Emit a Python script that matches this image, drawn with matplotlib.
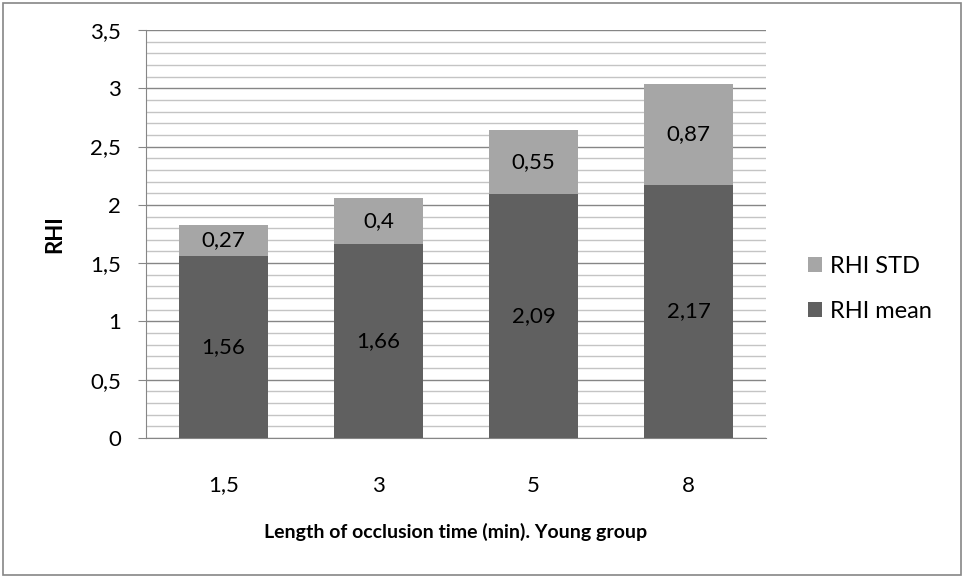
import numpy as np
import matplotlib
matplotlib.use("Agg")
import matplotlib.pyplot as plt
from matplotlib.patches import Rectangle

# data
categories = ["1,5", "3", "5", "8"]
rhi_mean = [1.56, 1.66, 2.09, 2.17]
rhi_std = [0.27, 0.4, 0.55, 0.87]

plt.rcParams['font.family'] = ['Lato', 'DejaVu Sans']

fig = plt.figure(figsize=(9.64, 5.78), dpi=100, facecolor='white')
ax = fig.add_axes([146/964, 1 - 438/578, 620/964, 408/578])

x = np.arange(len(categories))
dark = '#606060'
light = '#a6a6a6'
w = 0.57
fs = 16

b1 = ax.bar(x, rhi_mean, width=w, color=dark, zorder=3, label='RHI mean')
b2 = ax.bar(x, rhi_std, width=w, bottom=rhi_mean, color=light, zorder=3, label='RHI STD')

def fmt(v):
    s = f"{v:.2f}".rstrip('0').rstrip('.')
    return s.replace('.', ',')

for i in range(len(categories)):
    ax.text(x[i], rhi_mean[i] / 2, fmt(rhi_mean[i]), ha='center', va='center',
            fontsize=fs, color='black', zorder=4)
    ax.text(x[i], rhi_mean[i] + rhi_std[i] / 2, fmt(rhi_std[i]), ha='center', va='center',
            fontsize=fs, color='black', zorder=4)

ax.set_xlim(-0.5, len(categories) - 0.5)
ax.set_ylim(0, 3.5)
yt = np.arange(0, 3.51, 0.5)
ax.set_yticks(yt)
ax.set_yticklabels([fmt(v) for v in yt], fontsize=fs)
ax.set_yticks(np.arange(0, 3.51, 0.1), minor=True)
ax.set_xticks(x)
ax.set_xticklabels(categories, fontsize=fs)

ax.grid(axis='y', which='major', color='#868686', linewidth=1.0, zorder=0)
ax.grid(axis='y', which='minor', color='#c4c4c4', linewidth=1.0, zorder=0)

for s in ['top', 'right']:
    ax.spines[s].set_visible(False)
ax.spines['left'].set_color('#868686')
ax.spines['bottom'].set_color('#868686')
ax.tick_params(axis='y', which='major', length=6, color='#868686', pad=12)
ax.tick_params(axis='y', which='minor', length=0)
ax.tick_params(axis='x', length=0, pad=27)

ax.set_ylabel('RHI', fontsize=16, fontweight='bold', labelpad=18)
ax.set_xlabel('Length of occlusion time (min). Young group', fontsize=14,
              fontweight='bold', labelpad=20)

handles = [b2, b1]
leg = fig.legend(handles, ['RHI STD', 'RHI mean'], loc='center left',
                 bbox_to_anchor=(808/964, 1 - 289/578), frameon=False, fontsize=17,
                 borderpad=0, borderaxespad=0,
                 handlelength=0.6, handleheight=0.6, handletextpad=0.35, labelspacing=1.0)

fig.patches.append(Rectangle((3/964, 3/578), 958/964, 572/578, transform=fig.transFigure,
                             fill=False, edgecolor='#868686', linewidth=1.2))

fig.savefig('out.png', dpi=100, facecolor='white')
